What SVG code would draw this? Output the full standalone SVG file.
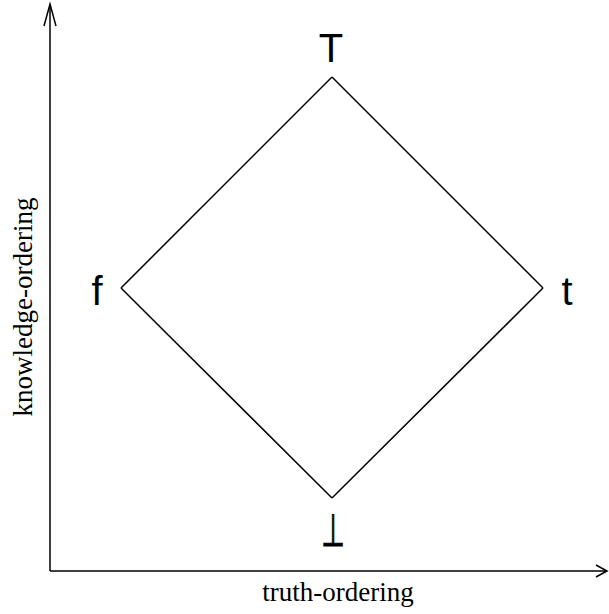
<svg xmlns="http://www.w3.org/2000/svg" width="609" height="614" viewBox="0 0 609 614">
<style>
.ln{fill:none;stroke:#000;stroke-width:1.5;stroke-linejoin:miter;stroke-linecap:butt}
.lbl{font-family:"Liberation Sans",sans-serif;font-size:40px;fill:#000;text-anchor:middle}
.sym{font-family:"DejaVu Sans",sans-serif;font-size:45px;fill:#000;stroke:#000;stroke-width:0.9;text-anchor:middle}
.ax{font-family:"Liberation Serif",serif;font-size:27px;fill:#000;text-anchor:middle}
</style>
<rect width="609" height="614" fill="#fff"/>
<g id="axes">
<path class="ln" d="M50,571 L50,4"/>
<path class="ln" d="M44,26 L50,4 L56,26"/>
<path class="ln" d="M50,571 L607,571"/>
<path class="ln" d="M596,565 L607,571 L596,577"/>
<text class="ax" transform="translate(32,307) rotate(-90)">knowledge-ordering</text>
<text class="ax" x="338" y="601">truth-ordering</text>
</g>
<g id="connectors">
<path class="ln" d="M332,77 L121,288"/>
<path class="ln" d="M332,77 L543,288"/>
<path class="ln" d="M121,288 L332,498"/>
<path class="ln" d="M543,288 L332,498"/>
</g>
<g id="node-top"><text class="lbl" x="331" y="62">T</text></g>
<g id="node-f"><text class="lbl" x="97" y="305">f</text></g>
<g id="node-t"><text class="lbl" x="567" y="305">t</text></g>
<g id="node-bottom"><text class="sym" transform="translate(333,546) scale(0.6,1)" x="0" y="0">⊥</text></g>
</svg>
